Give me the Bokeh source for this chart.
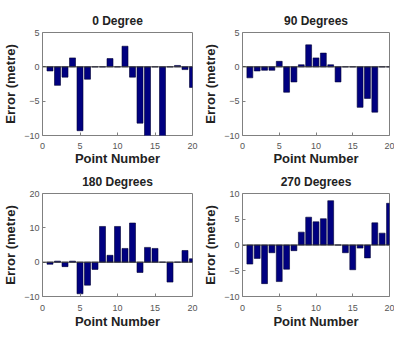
from bokeh.plotting import figure
from bokeh.layouts import column, row
from bokeh.models import Span, FixedTicker, Range1d
from bokeh.embed import file_html
from bokeh.resources import INLINE

points = list(range(1, 21))
err_0 = [-0.6, -2.7, -1.5, 1.3, -9.3, -1.8, 0, 0, 1.2, 0, 3.0, -1.5, -8.2, -10.5, 0, -10.5, 0, 0.2, -0.4, -3.0]
err_90 = [-1.6, -0.6, -0.5, -0.5, 0.8, -3.7, -2.2, 0.3, 3.2, 1.3, 2.0, 0.3, -2.2, 0, 0, -5.9, -4.6, -6.6, 0, 0]
err_180 = [-0.6, 0.3, -1.3, 0.3, -9.2, -6.7, -2.1, 10.4, 2.0, 10.4, 4.0, 11.4, -3.0, 4.3, 4.0, 0, -5.8, 0, 3.4, 1.0]
err_270 = [-3.7, -2.6, -7.5, -1.5, -7.1, -4.7, -1.1, 2.5, 5.4, 4.5, 5.1, 8.6, 0, -1.5, -4.8, -0.6, -2.5, 4.3, 2.3, 8.1]

titles = ["0 Degree", "90 Degrees", "180 Degrees", "270 Degrees"]
x_ticks = [0, 5, 10, 15, 20]
y_ticks_0 = [-10, -5, 0, 5]
y_ticks_90 = [-10, -5, 0, 5]
y_ticks_180 = [-10, 0, 10, 20]
y_ticks_270 = [-10, -5, 0, 5, 10]

FONT = "Liberation Sans"
TXT = "#222222"


def make(title, vals, yticks, fw, fh, bl, bt, br, bb, tick_sd, lab_sd, title_sd):
    p = figure(frame_width=fw, frame_height=fh, output_backend="svg",
               toolbar_location=None, x_range=Range1d(0, 20),
               y_range=Range1d(yticks[0], yticks[-1]),
               min_border_left=bl, min_border_top=bt, min_border_right=br,
               min_border_bottom=bb, title=title)
    p.title.align = "center"
    p.title.text_font = FONT
    p.title.text_font_size = "12px"
    p.title.text_font_style = "bold"
    p.title.text_color = TXT
    p.title.standoff = title_sd
    p.grid.visible = False
    p.outline_line_color = "#808080"
    p.outline_line_width = 1
    p.vbar(x=points, top=vals, bottom=0, width=0.8, fill_color="#000080",
           line_color="#000033", line_width=0.6)
    p.add_layout(Span(location=0, dimension="width", line_color="#333333", line_width=1))
    for ax, ticks in ((p.xaxis[0], x_ticks), (p.yaxis[0], yticks)):
        ax.ticker = FixedTicker(ticks=ticks)
        ax.major_tick_in = 3
        ax.major_tick_out = 0
        ax.major_tick_line_color = "#808080"
        ax.minor_tick_line_color = None
        ax.axis_line_color = None
        ax.major_label_text_font = FONT
        ax.major_label_text_font_size = "9px"
        ax.major_label_text_color = "#555555"
        ax.axis_label_text_font = FONT
        ax.axis_label_text_font_size = "13px"
        ax.axis_label_text_font_style = "bold"
        ax.axis_label_text_color = TXT
    p.xaxis.axis_label = "Point Number"
    p.yaxis.axis_label = "Error (metre)"
    p.xaxis.major_label_standoff = tick_sd
    p.xaxis.axis_label_standoff = lab_sd
    p.yaxis.major_label_standoff = 3
    p.yaxis.axis_label_standoff = 3
    return p


p1 = make(titles[0], err_0, y_ticks_0, 150, 103, 35, 32, 7, 30, 7, -1, 9)
p2 = make(titles[1], err_90, y_ticks_90, 147, 103, 43, 32, 5, 30, 7, -1, 9)
p3 = make(titles[2], err_180, y_ticks_180, 150, 103, 35, 18, 7, 30, 8, 0, 9)
p4 = make(titles[3], err_270, y_ticks_270, 147, 103, 43, 18, 5, 30, 8, 0, 9)

layout = column(row(p1, p2), row(p3, p4))
open("out.html", "w").write(file_html(layout, INLINE))
